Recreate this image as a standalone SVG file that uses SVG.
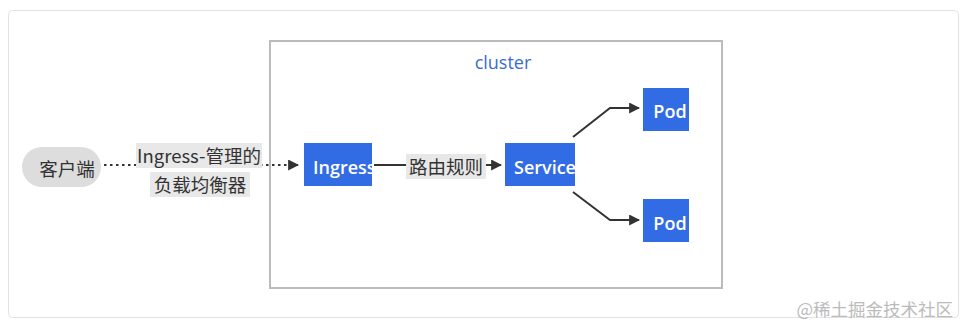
<svg xmlns="http://www.w3.org/2000/svg" width="967" height="331" viewBox="0 0 967 331">
<style>
.box{fill:#326ce5}
.bt{fill:#fff;font-family:"Open Sans","Noto Sans",sans-serif;font-size:18px;font-weight:600;dominant-baseline:central}
.lbl{fill:#333;font-family:"Noto Sans CJK SC","Noto Sans",sans-serif;font-size:18.5px;text-anchor:middle;dominant-baseline:central}
.lb{fill:#e8e8e8}
.ln{fill:none;stroke:#333;stroke-width:2}
</style>
<defs>
<marker id="ah" viewBox="0 0 10 10" refX="9" refY="5" markerWidth="5.5" markerHeight="5.5" orient="auto"><path d="M0,0L10,5L0,10z" fill="#333"/></marker>
</defs>
<rect x="8.5" y="10.5" width="950" height="307" rx="4" fill="#fff" stroke="#e2e2e2"/>
<g id="cluster">
<rect x="270" y="41" width="452" height="247" fill="#fff" stroke="#bbb" stroke-width="2"/>
<text x="503" y="62" fill="#3a6cd0" font-family="'Open Sans','Noto Sans',sans-serif" font-size="18" text-anchor="middle" dominant-baseline="central">cluster</text>
</g>
<g id="edges">
<path class="ln" d="M104,165H298" stroke-width="2.5" stroke-dasharray="2.5,3.5" marker-end="url(#ah)"/>
<rect class="lb" x="136" y="143" width="126" height="25"/>
<rect class="lb" x="150" y="172" width="100" height="25"/>
<text class="lbl" x="199" y="155">Ingress-管理的</text>
<text class="lbl" x="200" y="184">负载均衡器</text>
<path class="ln" d="M374,165H501" marker-end="url(#ah)"/>
<rect class="lb" x="406" y="154" width="80" height="25"/>
<text class="lbl" x="446" y="166">路由规则</text>
<path class="ln" d="M573,137L610,108H639" marker-end="url(#ah)"/>
<path class="ln" d="M573,192L610,220H639" marker-end="url(#ah)"/>
</g>
<g id="client">
<rect x="22" y="147" width="79" height="40" rx="20" fill="#ddd"/>
<text class="lbl" x="67" y="168">客户端</text>
</g>
<g id="ingress">
<rect class="box" x="304" y="143" width="68" height="43"/>
<svg x="304" y="143" width="68" height="43" overflow="hidden"><text class="bt" x="9" y="24">Ingress</text></svg>
</g>
<g id="service">
<rect class="box" x="505" y="143" width="70" height="43"/>
<svg x="505" y="143" width="70" height="43" overflow="hidden"><text class="bt" x="9" y="24">Service</text></svg>
</g>
<g id="pod1">
<rect class="box" x="643" y="88" width="46" height="43"/>
<text class="bt" x="670" y="111" text-anchor="middle">Pod</text>
</g>
<g id="pod2">
<rect class="box" x="643" y="199" width="46" height="43"/>
<text class="bt" x="670" y="223" text-anchor="middle">Pod</text>
</g>
<text x="953" y="308" fill="#bbb" font-family="'Noto Sans CJK SC',sans-serif" font-size="17.5" text-anchor="end" dominant-baseline="central">@稀土掘金技术社区</text>
</svg>
